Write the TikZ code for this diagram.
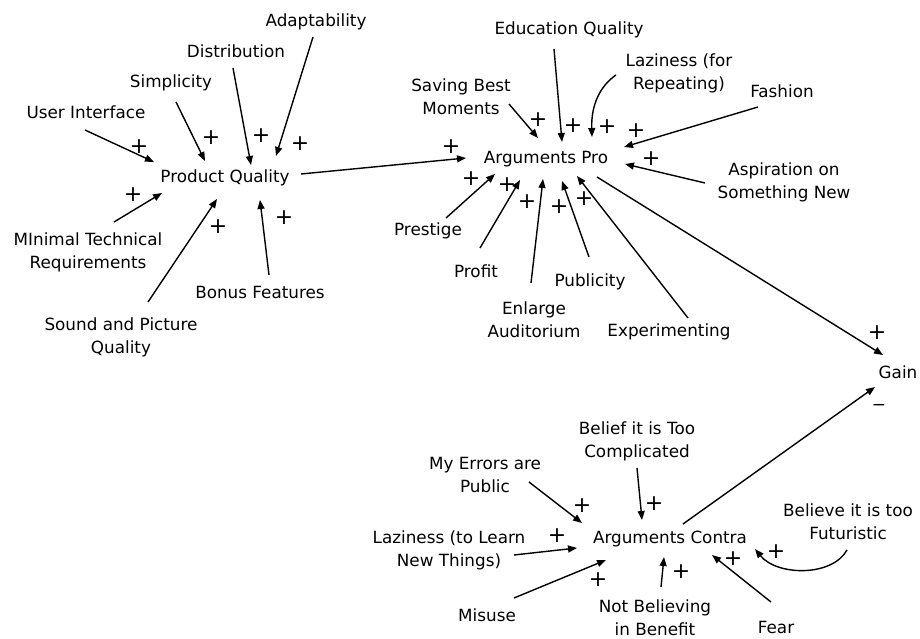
\documentclass[tikz,border=0pt]{standalone}
\usepackage{fontspec}
\setmainfont{DejaVu Sans}
\usetikzlibrary{arrows.meta,calc}
\begin{document}
\begin{tikzpicture}[x=1pt,y=-1pt,
  lbl/.style={inner sep=0pt, align=center, font=\fontsize{16.8}{23}\selectfont},
  sgn/.style={inner sep=0pt, font=\fontsize{22}{22}\selectfont},
  arr/.style={line width=1.4pt, -{Triangle[length=9pt,width=7pt]}}]
\useasboundingbox (0,0) rectangle (920,639);

% ---- product quality cluster
\node[lbl] (pq)      at (225,178) {Product Quality};
\node[lbl] (ui)      at (86,112)  {User Interface};
\node[lbl] (simp)    at (171,83)  {Simplicity};
\node[lbl] (dist)    at (236,51)  {Distribution};
\node[lbl] (adapt)   at (316,22)  {Adaptability};
\node[lbl] (minimal) at (88,252)  {MInimal Technical\\Requirements};
\node[lbl] (sound)   at (121,337) {Sound and Picture\\Quality};
\node[lbl] (bonus)   at (260,292) {Bonus Features};

% ---- arguments pro cluster
\node[lbl] (ap)        at (546,159) {Arguments Pro};
\node[lbl] (edu)       at (569,30)  {Education Quality};
\node[lbl] (lazyrep)   at (679,73)  {Laziness (for\\Repeating)};
\node[lbl] (saving)    at (461,97)  {Saving Best\\Moments};
\node[lbl] (fashion)   at (782,91)  {Fashion};
\node[lbl] (aspir)     at (784,182) {Aspiration on\\Something New};
\node[lbl] (prestige)  at (428,231) {Prestige};
\node[lbl] (profit)    at (476,271) {Profit};
\node[lbl] (publicity) at (590,282) {Publicity};
\node[lbl] (enlarge)   at (534,320) {Enlarge\\Auditorium};
\node[lbl] (exper)     at (669,332) {Experimenting};
\node[lbl] (gain)      at (898,372) {Gain};

% ---- arguments contra cluster
\node[lbl] (ac)        at (670,539) {Arguments Contra};
\node[lbl] (belief)    at (637,441) {Belief it is Too\\Complicated};
\node[lbl] (errors)    at (485,475) {My Errors are\\Public};
\node[lbl] (futur)     at (848,522) {Believe it is too\\Futuristic};
\node[lbl] (lazylearn) at (449,550) {Laziness (to Learn\\New Things)};
\node[lbl] (misuse)    at (487,615) {Misuse};
\node[lbl] (notbel)    at (655,618) {Not Believing\\in Benefit};
\node[lbl] (fear)      at (776,627) {Fear};

% ---- links into product quality
\draw[arr] ($(ui)+(-1,18)$)      -- ($(pq)+(-71,-16)$);
\draw[arr] ($(simp)+(5,19)$)     -- ($(pq)+(-20,-17)$);
\draw[arr] ($(dist)+(-3,17)$)    -- ($(pq)+(26,-13)$);
\draw[arr] ($(adapt)+(-3,15)$)   -- ($(pq)+(51,-22)$);
\draw[arr] ($(minimal)+(26,-30)$)-- ($(pq)+(-63,15)$);
\draw[arr] ($(sound)+(27,-35)$)  -- ($(pq)+(-8,21)$);
\draw[arr] ($(bonus)+(9,-17)$)   -- ($(pq)+(35,22)$);

% ---- links into arguments pro
\draw[arr] ($(pq)+(76,-4)$)       -- ($(ap)+(-80,-1)$);
\draw[arr] ($(saving)+(48,7)$)    -- ($(ap)+(-8,-21)$);
\draw[arr] ($(edu)+(-15,19)$)     -- ($(ap)+(16,-17)$);
\draw[arr] ($(lazyrep)+(-63,2)$) .. controls +(-16,11) and +(-1,-32) .. ($(ap)+(46,-22)$);
\draw[arr] ($(fashion)+(-24,16)$) -- ($(ap)+(78,-12)$);
\draw[arr] ($(aspir)+(-79,1)$)    -- ($(ap)+(79,5)$);
\draw[arr] ($(prestige)+(18,-13)$)-- ($(ap)+(-51,15)$);
\draw[arr] ($(profit)+(4,-23)$)   -- ($(ap)+(-26,21)$);
\draw[arr] ($(enlarge)+(-3,-37)$) -- ($(ap)+(-3,20)$);
\draw[arr] ($(publicity)+(-1,-25)$)-- ($(ap)+(16,22)$);
\draw[arr] ($(exper)+(19,-14)$)   -- ($(ap)+(31,17)$);

% ---- links into gain
\draw[arr] ($(ap)+(51,18)$) -- ($(gain)+(-15,-17)$);
\draw[arr] ($(ac)+(13,-15)$) -- ($(gain)+(-23,15)$);

% ---- links into arguments contra
\draw[arr] ($(errors)+(44,7)$)     -- ($(ac)+(-88,-16)$);
\draw[arr] ($(belief)+(0,27)$)     -- ($(ac)+(-28,-19)$);
\draw[arr] ($(lazylearn)+(65,5)$)  -- ($(ac)+(-93,9)$);
\draw[arr] ($(misuse)+(27,-17)$)   -- ($(ac)+(-64,21)$);
\draw[arr] ($(notbel)+(6,-31)$)    -- ($(ac)+(-6,18)$);
\draw[arr] ($(fear)+(-5,-25)$)     -- ($(ac)+(42,16)$);
\draw[arr] ($(futur)+(-1,28)$) .. controls +(-15,27) and +(22,27) .. ($(ac)+(85,10)$);

% ---- polarity signs
\foreach \p [count=\i] in {(139,147),(211,138),(261,136),(300,144),(133,195),(218,227),(284,218),
  (451,147),(538,120),(573,126),(607,127),(636,131),(651,159),(471,179),(507,185),(527,202),(559,207),(584,199),(877,333),
  (582,506),(654,504),(557,536),(598,580),(681,572),(733,559),(776,552)}
  \node[sgn] (plus\i) at \p {+};
\node[sgn, font=\fontsize{17}{17}\selectfont] (minus) at (879,407) {−};
\end{tikzpicture}
\end{document}
